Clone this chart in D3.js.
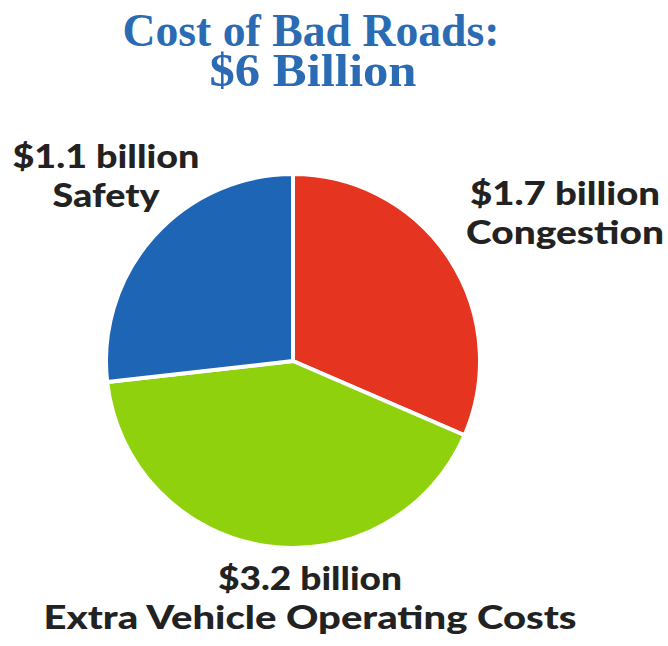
<!DOCTYPE html>
<html>
<head>
<meta charset="utf-8">
<script src="https://cdn.jsdelivr.net/npm/d3@7"></script>
<style>
  html, body { margin: 0; padding: 0; background: #fff; }
  #chart { width: 668px; height: 646px; }
</style>
</head>
<body>
<div id="chart"></div>
<script>
(function () {
  "use strict";

  // categories, clockwise from 12 o'clock
  const CATEGORIES = ["Congestion", "Extra Vehicle Operating Costs", "Safety"];
  const COST_LABELS = ["$1.7 billion", "$3.2 billion", "$1.1 billion"];
  // slice shares as drawn in the picture (percent of the circle)
  const SLICE_SHARE = [31.5, 41.7, 26.8];
  const TITLE_LINES = ["Cost of Bad Roads:", "$6 Billion"];

  const colors = ["#e5341f", "#8fd10c", "#1f65b5"];

  const width = 668;
  const height = 646;
  const cx = 293;
  const cy = 361;
  const radius = 187;

  const svg = d3.select("#chart")
    .append("svg")
    .attr("width", width)
    .attr("height", height);

  // title
  const title = svg.append("g")
    .attr("font-family", "'Liberation Serif', 'Times New Roman', serif")
    .attr("font-weight", "bold")
    .attr("font-size", 46)
    .attr("fill", "#2a6bb4")
    .attr("text-anchor", "middle");
  title.append("text")
    .attr("x", 311).attr("y", 46)
    .attr("textLength", 377).attr("lengthAdjust", "spacingAndGlyphs")
    .text(TITLE_LINES[0]);
  title.append("text")
    .attr("x", 313).attr("y", 86)
    .attr("textLength", 207).attr("lengthAdjust", "spacingAndGlyphs")
    .text(TITLE_LINES[1]);

  // pie
  const pie = d3.pie().sort(null).value((d) => d);
  const arc = d3.arc().innerRadius(0).outerRadius(radius);

  svg.append("g")
    .attr("transform", `translate(${cx},${cy})`)
    .selectAll("path")
    .data(pie(SLICE_SHARE))
    .join("path")
    .attr("d", arc)
    .attr("fill", (d, i) => colors[i])
    .attr("stroke", "#fff")
    .attr("stroke-width", 4)
    .attr("stroke-linejoin", "round");

  // labels: x, first baseline, line widths
  const labelPos = [
    { x: 565, y: 205, w: [190, 198] },
    { x: 310, y: 590, w: [184, 533] },
    { x: 106, y: 168, w: [187, 107] },
  ];
  const labels = svg.append("g")
    .attr("font-family", "Lato, 'DejaVu Sans', sans-serif")
    .attr("font-weight", 900)
    .attr("font-size", 33)
    .attr("fill", "#222")
    .attr("text-anchor", "middle");
  CATEGORIES.forEach((cat, i) => {
    const p = labelPos[i];
    labels.append("text")
      .attr("x", p.x).attr("y", p.y)
      .attr("textLength", p.w[0]).attr("lengthAdjust", "spacingAndGlyphs")
      .text(COST_LABELS[i]);
    labels.append("text")
      .attr("x", p.x).attr("y", p.y + 39)
      .attr("textLength", p.w[1]).attr("lengthAdjust", "spacingAndGlyphs")
      .text(cat);
  });
})();
</script>
</body>
</html>
